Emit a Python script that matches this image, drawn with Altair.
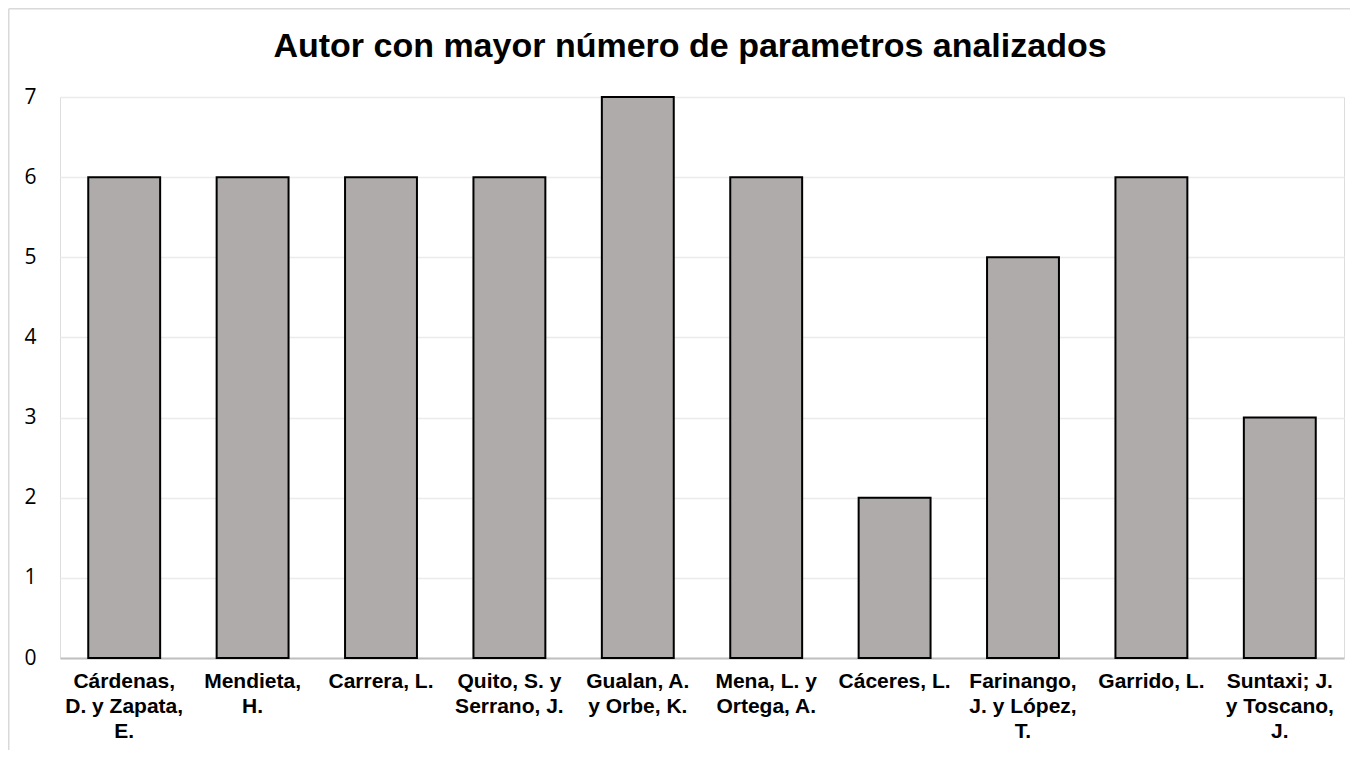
import altair as alt
import pandas as pd

categories = [
    "Cárdenas,\nD. y Zapata,\nE.",
    "Mendieta,\nH.",
    "Carrera, L.",
    "Quito, S. y\nSerrano, J.",
    "Gualan, A.\ny Orbe, K.",
    "Mena, L. y\nOrtega, A.",
    "Cáceres, L.",
    "Farinango,\nJ. y López,\nT.",
    "Garrido, L.",
    "Suntaxi; J.\ny Toscano,\nJ.",
]
values = [6, 6, 6, 6, 7, 6, 2, 5, 6, 3]
y_ticks = [0, 1, 2, 3, 4, 5, 6, 7]
title_text = "Autor con mayor número de parametros analizados"

df = pd.DataFrame({"autor": categories, "valor": values})
one = pd.DataFrame({"t": [title_text]})

W, H = 1284, 561

bars = alt.Chart(df).mark_bar(
    color="#AFABAB", stroke="#000000", strokeWidth=2
).encode(
    x=alt.X(
        "autor:N",
        sort=categories,
        title=None,
        scale=alt.Scale(paddingInner=0.44, paddingOuter=0.22),
        axis=alt.Axis(
            labelAngle=0,
            labelExpr="split(datum.label, '\\n')",
            labelFont="Liberation Sans",
            labelFontWeight="bold",
            labelFontSize=21,
            labelColor="#000000",
            labelLineHeight=25,
            labelPadding=12,
            labelBaseline="top",
            ticks=False,
            domainColor="#BFBFBF",
            domainWidth=2,
            grid=False,
        ),
    ),
    y=alt.Y(
        "valor:Q",
        title=None,
        scale=alt.Scale(domain=[0, 7], nice=False),
        axis=alt.Axis(
            values=y_ticks,
            labelFont="Open Sans",
            labelFontSize=21,
            labelColor="#000000",
            labelPadding=24,
            ticks=False,
            domain=False,
            gridColor="#EBEBEB",
            gridWidth=1.5,
        ),
    ),
)

border_left = alt.Chart(one).mark_rule(color="#D9D9D9", strokeWidth=1.5).encode(
    x=alt.value(-51.25), y=alt.value(-88.25), y2=alt.value(H + 120)
)
border_top = alt.Chart(one).mark_rule(color="#D9D9D9", strokeWidth=1.5).encode(
    x=alt.value(-51.25), x2=alt.value(W + 30), y=alt.value(-88.25)
)
title = alt.Chart(one).mark_text(
    font="Liberation Sans",
    fontSize=34,
    fontWeight="bold",
    color="#000000",
    align="center",
    baseline="alphabetic",
).encode(
    text="t:N",
    x=alt.value(W / 2 - 12),
    y=alt.value(-40),
)

chart = alt.layer(border_left, border_top, bars, title).properties(
    width=W,
    height=H,
    padding={"left": 52, "top": 89, "right": 6, "bottom": 92},
    autosize=alt.AutoSizeParams(type="none"),
).configure_view(stroke=None).configure(background="#FFFFFF")

chart.save("out.html", embed_options={"renderer": "svg", "actions": False})
